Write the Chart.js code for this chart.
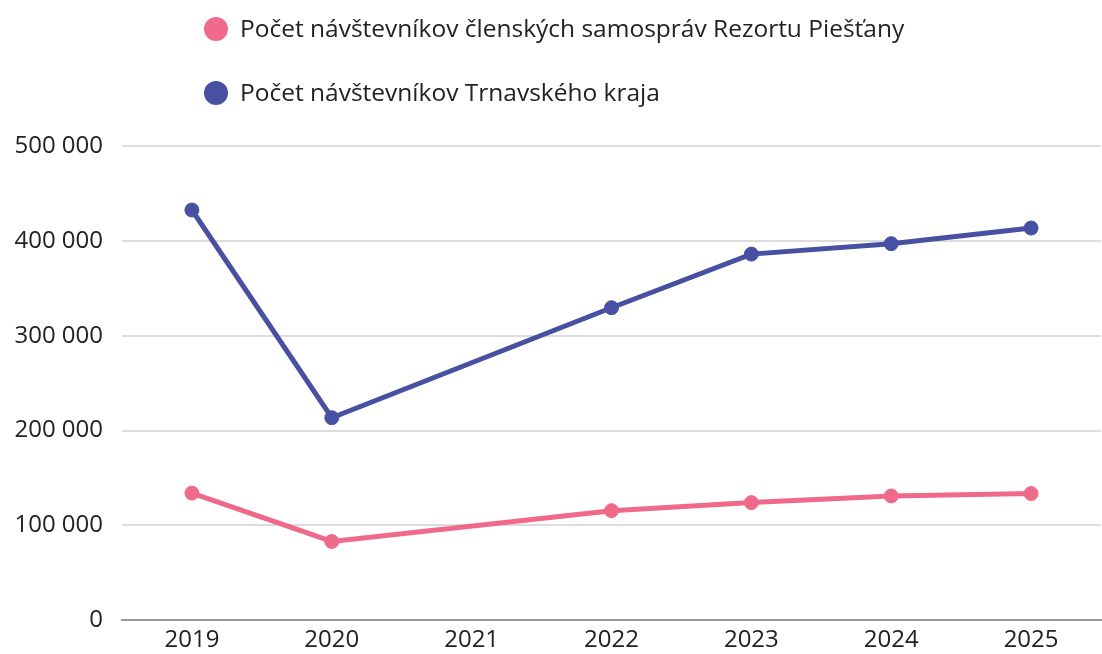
<!DOCTYPE html>
<html><head>
<meta charset="utf-8">
<title>Počet návštevníkov</title>
<script src="https://cdn.jsdelivr.net/npm/chart.js"></script>
<style>
  html, body { margin:0; padding:0; background:#fff; overflow:hidden }
  #wrap { width:1109px; height:654px; position:relative }
</style>
</head><body>
<div id="wrap"><canvas id="chart"></canvas></div>
<script>
// data
const years = ["2019", "2020", "2021", "2022", "2023", "2024", "2025"];
const rezortPiestany = [134000, 83000, null, 115500, 124000, 131000, 133500];
const trnavskyKraj = [432500, 213500, null, 329500, 386000, 397000, 413500];
const seriesNames = [
  "Počet návštevníkov členských samospráv Rezortu Piešťany",
  "Počet návštevníkov Trnavského kraja"
];
const yTicks = [0, 100000, 200000, 300000, 400000, 500000];

const PINK = "#ef6a8a", BLUE = "#4850a2";
const FONT = "'Open Sans', 'Noto Sans', sans-serif";

const fmt = v => String(v).replace(/\B(?=(\d{3})+(?!\d))/g, " ");

// legend stacked one item per line, left-aligned as one block
const stackedLegend = {
  id: "stackedLegend",
  afterDraw(chart) {
    const ctx = chart.ctx;
    ctx.save();
    ctx.font = "24.5px " + FONT;
    ctx.textBaseline = "middle";
    chart.data.datasets.forEach((ds, i) => {
      const y = 29 + i * 64;
      ctx.beginPath();
      ctx.fillStyle = ds.borderColor;
      ctx.arc(216, y, 12, 0, Math.PI * 2);
      ctx.fill();
      ctx.fillStyle = "#222";
      ctx.fillText(ds.label, 240, y + 1);
    });
    ctx.restore();
  }
};

new Chart(document.getElementById("chart"), {
  type: "line",
  data: {
    labels: years,
    datasets: [
      { label: seriesNames[0], data: rezortPiestany, borderColor: PINK, backgroundColor: PINK },
      { label: seriesNames[1], data: trnavskyKraj, borderColor: BLUE, backgroundColor: BLUE }
    ]
  },
  options: {
    responsive: true,
    maintainAspectRatio: false,
    animation: false,
    spanGaps: true,
    layout: { padding: { top: 146, right: 0, bottom: -7, left: 0 } },
    elements: {
      line: { borderWidth: 5, tension: 0 },
      point: { radius: 7, hoverRadius: 7 }
    },
    plugins: { legend: { display: false }, tooltip: { enabled: false } },
    scales: {
      x: {
        offset: true,
        grid: { display: false, drawTicks: false },
        border: { display: true, color: "#999", width: 2 },
        ticks: { color: "#222", font: { family: FONT, size: 24 }, padding: 6 }
      },
      y: {
        min: 0, max: 500000,
        afterBuildTicks: s => { s.ticks = yTicks.map(v => ({ value: v })); },
        afterFit: s => { s.width = 122; },
        grid: { color: "#dcdcdc", lineWidth: 2, drawTicks: false },
        border: { display: false },
        ticks: { color: "#222", font: { family: FONT, size: 24 }, padding: 19, callback: v => fmt(v) }
      }
    }
  },
  plugins: [stackedLegend]
});
</script>
</body></html>
